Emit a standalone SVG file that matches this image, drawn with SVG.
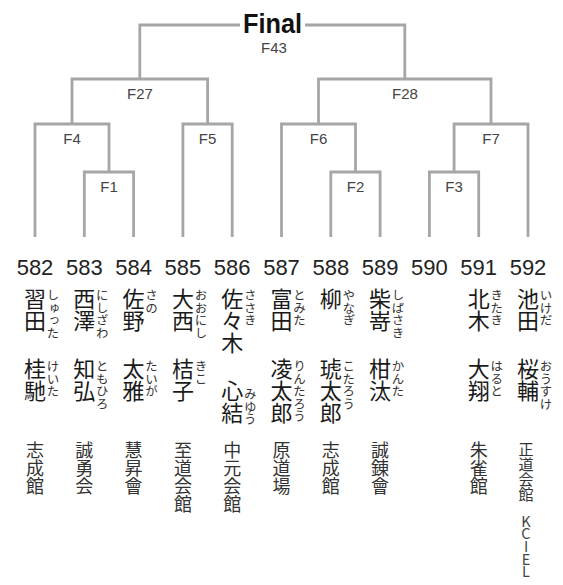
<svg xmlns="http://www.w3.org/2000/svg" width="563" height="585" viewBox="0 0 563 585">
<style>
.ln{fill:none;stroke:#a6a6a6;stroke-width:2.8}
.fl{font-family:"Liberation Sans",Arial,sans-serif;font-size:15px;fill:#444;text-anchor:middle}
.fin{font-family:"Liberation Sans",Arial,sans-serif;font-size:28px;font-weight:bold;fill:#111;text-anchor:middle}
.num{font-family:"Liberation Sans",Arial,sans-serif;font-size:22px;fill:#222;text-anchor:middle}
.v{writing-mode:vertical-rl;font-family:"Noto Sans CJK JP","Noto Sans CJK SC",sans-serif}
.nm{font-size:22px;fill:#1a1a1a}
.fu{font-size:12.5px;fill:#333}
.cl{font-size:18px;fill:#333}
.cs{font-size:15px;fill:#333}
.lat{font-size:14.5px;fill:#444;text-orientation:upright;letter-spacing:-1.9px}
</style>
<rect width="563" height="585" fill="#fff"/>
<g id="connectors">
<path class="ln" d="M139.8,79 V25 H240 M305,25 H404.8 V79"/>
<path class="ln" d="M72,124 V79 H207.6 V124"/>
<path class="ln" d="M318.5,124 V79 H491 V124"/>
<path class="ln" d="M35,237 V124 H109 V172"/>
<path class="ln" d="M182.9,237 V124 H232.2 V237"/>
<path class="ln" d="M281.5,237 V124 H355.5 V172"/>
<path class="ln" d="M454.1,172 V124 H528 V237"/>
<path class="ln" d="M84.3,237 V172 H133.6 V237"/>
<path class="ln" d="M330.8,237 V172 H380.1 V237"/>
<path class="ln" d="M429.4,237 V172 H478.7 V237"/>
</g>
<g id="final"><text class="fin" x="272.5" y="33" textLength="59" lengthAdjust="spacingAndGlyphs">Final</text><text class="fl" x="274" y="53">F43</text></g>
<g id="F27"><text class="fl" x="140" y="99">F27</text></g>
<g id="F28"><text class="fl" x="405" y="99">F28</text></g>
<g id="F4"><text class="fl" x="72" y="144">F4</text></g>
<g id="F5"><text class="fl" x="207.6" y="144">F5</text></g>
<g id="F6"><text class="fl" x="318.5" y="144">F6</text></g>
<g id="F7"><text class="fl" x="491" y="144">F7</text></g>
<g id="F1"><text class="fl" x="109" y="192">F1</text></g>
<g id="F2"><text class="fl" x="355.5" y="192">F2</text></g>
<g id="F3"><text class="fl" x="454" y="192">F3</text></g>

<g id="p582"><text class="num" x="35" y="275">582</text>
<text class="v nm" x="35" y="288">習田</text><text class="v fu" x="53" y="289">しゅった</text>
<text class="v nm" x="35" y="358">桂馳</text><text class="v fu" x="53" y="360">けいた</text>
<text class="v cl" x="35" y="441">志成館</text></g>

<g id="p583"><text class="num" x="84.3" y="275">583</text>
<text class="v nm" x="84.3" y="288">西澤</text><text class="v fu" x="102.3" y="289">にしざわ</text>
<text class="v nm" x="84.3" y="358">知弘</text><text class="v fu" x="102.3" y="360">ともひろ</text>
<text class="v cl" x="84.3" y="441">誠勇会</text></g>

<g id="p584"><text class="num" x="133.6" y="275">584</text>
<text class="v nm" x="133.6" y="288">佐野</text><text class="v fu" x="151.6" y="289">さの</text>
<text class="v nm" x="133.6" y="358">太雅</text><text class="v fu" x="151.6" y="360">たいが</text>
<text class="v cl" x="133.6" y="441">慧昇會</text></g>

<g id="p585"><text class="num" x="182.9" y="275">585</text>
<text class="v nm" x="182.9" y="288">大西</text><text class="v fu" x="200.9" y="289">おおにし</text>
<text class="v nm" x="182.9" y="358">桔子</text><text class="v fu" x="200.9" y="360">きこ</text>
<text class="v cl" x="182.9" y="441">至道会館</text></g>

<g id="p586"><text class="num" x="232.2" y="275">586</text>
<text class="v nm" x="232.2" y="288">佐々木</text><text class="v fu" x="250.2" y="289">ささき</text>
<text class="v nm" x="232.2" y="380">心結</text><text class="v fu" x="250.2" y="388">みゆう</text>
<text class="v cl" x="232.2" y="441">中元会館</text></g>

<g id="p587"><text class="num" x="281.5" y="275">587</text>
<text class="v nm" x="281.5" y="288">富田</text><text class="v fu" x="299.5" y="289">とみた</text>
<text class="v nm" x="281.5" y="358">凌太郎</text><text class="v fu" x="299.5" y="360">りんたろう</text>
<text class="v cl" x="281.5" y="441">原道場</text></g>

<g id="p588"><text class="num" x="330.8" y="275">588</text>
<text class="v nm" x="330.8" y="288">柳</text><text class="v fu" x="348.8" y="289">やなぎ</text>
<text class="v nm" x="330.8" y="358">琥太郎</text><text class="v fu" x="348.8" y="360">こたろう</text>
<text class="v cl" x="330.8" y="441">志成館</text></g>

<g id="p589"><text class="num" x="380.1" y="275">589</text>
<text class="v nm" x="380.1" y="288">柴嵜</text><text class="v fu" x="398.1" y="289">しばさき</text>
<text class="v nm" x="380.1" y="358">柑汰</text><text class="v fu" x="398.1" y="360">かんた</text>
<text class="v cl" x="380.1" y="441">誠錬會</text></g>

<g id="p590"><text class="num" x="429.4" y="275">590</text></g>

<g id="p591"><text class="num" x="478.7" y="275">591</text>
<text class="v nm" x="478.7" y="288">北木</text><text class="v fu" x="496.7" y="289">きたき</text>
<text class="v nm" x="478.7" y="358">大翔</text><text class="v fu" x="496.7" y="360">はると</text>
<text class="v cl" x="478.7" y="441">朱雀館</text></g>

<g id="p592"><text class="num" x="528" y="275">592</text>
<text class="v nm" x="528" y="288">池田</text><text class="v fu" x="546" y="289">いけだ</text>
<text class="v nm" x="528" y="358">桜輔</text><text class="v fu" x="546" y="360">おうすけ</text>
<text class="v cs" x="526" y="442">正道会館</text>
<text class="v lat" x="526" y="514">KCIEL</text></g>
</svg>
